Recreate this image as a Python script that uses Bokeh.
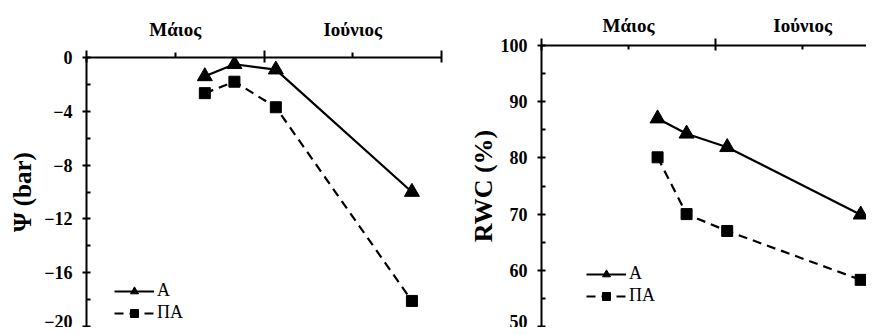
from bokeh.plotting import figure
from bokeh.layouts import row, column
from bokeh.models import FixedTicker, Range1d, Legend, LegendItem
from bokeh.embed import file_html
from bokeh.resources import INLINE

# Sampling days counted from 1 May (0 = 1 May, 30 = 1 June, 60 = 1 July)
days = [20, 25, 32, 55]
psi_A = [-1.4, -0.5, -0.9, -10.0]
psi_PA = [-2.65, -1.8, -3.7, -18.1]
rwc_A = [87.0, 84.3, 81.9, 69.9]
rwc_PA = [80.1, 70.0, 67.0, 58.3]

month_pos = [15, 45]
month_labels = ["Μάιος", "Ιούνιος"]
month_bounds = [0, 30, 60]
psi_ticks = [-20, -16, -12, -8, -4, 0]
psi_minor = [-18, -14, -10, -6, -2]
rwc_ticks = [50, 60, 70, 80, 90, 100]
rwc_minor = [55, 65, 75, 85, 95]
series_labels = ["Α", "ΠΑ"]

FONT = "Times New Roman"


def make_panel(width, height, xend, yr, yticks, yminor, ylabel, y_vals_A, y_vals_PA,
               mb_left, mb_right, mb_top, mb_bottom, standoff_x, legend_loc, label_size,
               label_standoff, mid_in, mid_out):
    p = figure(width=width, height=height, output_backend="svg", toolbar_location=None,
               x_axis_location="above", x_range=Range1d(0, xend), y_range=Range1d(*yr),
               min_border_left=mb_left, min_border_right=mb_right,
               min_border_top=mb_top, min_border_bottom=mb_bottom)
    p.outline_line_color = None
    p.grid.visible = False
    p.background_fill_color = "white"
    p.border_fill_color = "white"

    xa = p.xaxis[0]
    xa.ticker = FixedTicker(ticks=month_pos, minor_ticks=month_bounds)
    xa.major_label_overrides = {month_pos[i]: month_labels[i] for i in range(len(month_pos))}
    xa.major_tick_in = mid_in
    xa.major_tick_out = mid_out
    xa.minor_tick_in = 5
    xa.minor_tick_out = 7
    xa.major_label_standoff = standoff_x
    ya = p.yaxis[0]
    ya.ticker = FixedTicker(ticks=yticks, minor_ticks=yminor)
    ya.major_tick_in = 4
    ya.major_tick_out = 4
    ya.minor_tick_in = 4
    ya.minor_tick_out = 0
    ya.axis_label = ylabel
    ya.axis_label_text_font = FONT
    ya.axis_label_text_font_style = "bold"
    ya.axis_label_text_color = "black"
    ya.axis_label_text_font_size = label_size
    ya.axis_label_standoff = label_standoff
    ya.major_label_standoff = 10
    for ax in (xa, ya):
        ax.axis_line_width = 2
        ax.axis_line_color = "black"
        ax.major_tick_line_width = 2
        ax.minor_tick_line_width = 2
        ax.major_tick_line_color = "black"
        ax.minor_tick_line_color = "black"
        ax.major_label_text_font = FONT
        ax.major_label_text_font_style = "bold"
        ax.major_label_text_color = "black"
    xa.major_label_text_font_size = "19px"
    ya.major_label_text_font_size = "18px"

    la = p.line(days, y_vals_A, line_color="black", line_width=2.2)
    ma = p.scatter(days, y_vals_A, marker="triangle", size=15, fill_color="black", line_color="black")
    lp = p.line(days, y_vals_PA, line_color="black", line_width=2.2, line_dash="9 6")
    mp = p.scatter(days, y_vals_PA, marker="square", size=11, fill_color="black", line_color="black")

    leg = Legend(items=[LegendItem(label=series_labels[0], renderers=[la, ma]),
                        LegendItem(label=series_labels[1], renderers=[lp, mp])],
                 location=legend_loc, glyph_width=40, glyph_height=20, spacing=1,
                 padding=0, margin=0, label_standoff=3, border_line_color=None,
                 background_fill_alpha=0, label_text_font=FONT, label_text_font_size="18px",
                 label_text_color="black", label_height=20)
    p.add_layout(leg)
    return p


left = make_panel(445, 327, 60, (-20, 0), psi_ticks, psi_minor, "Ψ (bar)", psi_A, psi_PA,
                  86, 4, 57, 1, 11, (28, 3), "25px", 5, 0, 5)
right = make_panel(421, 327, 56, (50, 100), rwc_ticks, rwc_minor, "RWC (%)", rwc_A, rwc_PA,
                   96, 0, 45, 1, 3, (45, 20), "26px", 0, 4, 0)

layout = row(column(left), column(right))
open("out.html", "w").write(file_html(layout, INLINE))
